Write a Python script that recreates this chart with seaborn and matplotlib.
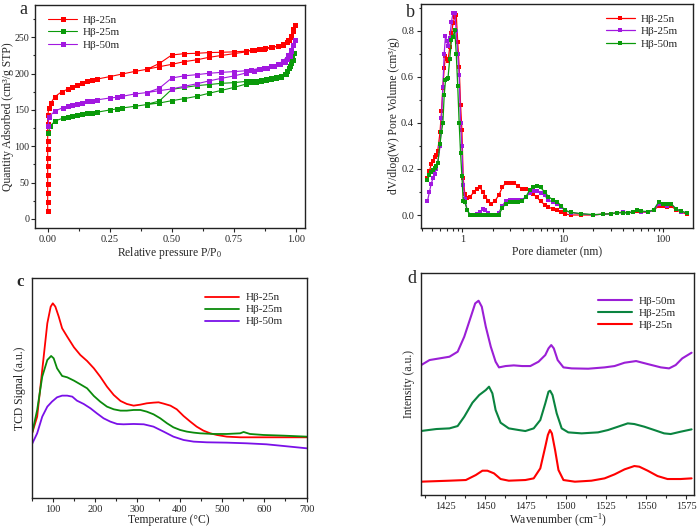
import matplotlib
matplotlib.use("Agg")
import matplotlib.pyplot as plt
import seaborn as sns
import numpy as np
import pandas as pd
from matplotlib.ticker import MultipleLocator, LogLocator, NullFormatter

# ---------------- Panel a: N2 isotherms (adsorption then desorption) ----------------
a_25n_x = [0.0, 0.0, 0.0, 0.0, 0.0, 0.0, 0.0, 0.0, 0.0, 0.0, 0.0, 0.0, 0.005, 0.012, 0.028, 0.056,
           0.08, 0.10, 0.12, 0.14, 0.16, 0.18, 0.20, 0.25, 0.30, 0.35, 0.40, 0.45, 0.50, 0.55, 0.60,
           0.65, 0.70, 0.75, 0.80, 0.825, 0.85, 0.876, 0.903, 0.93, 0.95, 0.964, 0.972, 0.98, 0.988,
           0.995,
           0.99, 0.98, 0.97, 0.95, 0.93, 0.90, 0.87, 0.85, 0.83, 0.80, 0.75, 0.70, 0.65, 0.60, 0.55,
           0.50, 0.45, 0.40]
a_25n_y = [11.5, 23.4, 35.8, 48, 60.1, 72.5, 84.4, 96.3, 108, 119.7, 131, 142.7, 153, 159, 168, 175,
           178.4, 181, 184, 186.7, 189.4, 190.8, 192.6, 195.9, 199.5, 203, 206, 209.6, 212.8, 216.5, 219,
           222.5, 225, 227.5, 230, 233, 234, 234.8, 236, 238, 240, 243, 246, 251, 258.7,
           266.5,
           262, 252, 247, 241, 238, 236, 234.5, 233.5, 232.5, 231, 230, 229.4, 229, 228, 227.5,
           225.7, 214, 206]

a_25m_x = [0.002, 0.01, 0.03, 0.06, 0.082, 0.10, 0.12, 0.14, 0.16, 0.18, 0.20, 0.25, 0.28, 0.30,
           0.35, 0.40, 0.45, 0.50, 0.55, 0.60, 0.65, 0.70, 0.75, 0.80, 0.82, 0.84, 0.86, 0.88, 0.90,
           0.92, 0.94, 0.955, 0.965, 0.972, 0.98, 0.987, 0.992,
           0.985, 0.975, 0.96, 0.94, 0.92, 0.90, 0.88, 0.86, 0.84, 0.82, 0.80, 0.75, 0.70, 0.65,
           0.60, 0.55, 0.50, 0.45, 0.40]
a_25m_y = [118, 128, 135, 138.5, 140.8, 142, 143, 144.5, 146, 146.5, 147, 150, 151.5, 152.8,
           155, 157.5, 159.6, 162.8, 165.6, 168.8, 173, 177, 181, 185.8, 188, 189, 190, 191, 193,
           195, 197, 200, 204, 208, 214, 219, 229,
           222, 210, 200, 196, 194, 193.5, 192, 191, 190, 189.5, 189.4, 187.6, 186.7, 185,
           183.5, 181, 178.4, 162.4, 157.8]

a_50m_x = [0.002, 0.005, 0.03, 0.06, 0.082, 0.10, 0.12, 0.14, 0.16, 0.18, 0.20, 0.25, 0.28, 0.30,
           0.35, 0.40, 0.45, 0.50, 0.55, 0.60, 0.65, 0.70, 0.75, 0.80, 0.83, 0.856, 0.883, 0.91,
           0.937, 0.957, 0.966, 0.975, 0.981, 0.987, 0.995,
           0.99, 0.98, 0.97, 0.95, 0.93, 0.90, 0.87, 0.85, 0.82, 0.80, 0.75, 0.70, 0.65, 0.60,
           0.55, 0.50, 0.45, 0.40]
a_50m_y = [128, 141, 148.6, 153, 155, 157, 158.7, 160, 162, 163, 164, 166.5, 167.5, 168.8,
           172, 174, 176.6, 179, 182.6, 186, 190, 193.6, 196.8, 201, 204, 206.5, 208, 210.6,
           213, 216, 219.7, 224.8, 231.6, 239.4, 247,
           240, 233, 226, 218, 213, 210, 208, 207, 205, 204, 202.8, 201.8, 200.5, 198.6,
           197, 194, 180, 174]

# ---------------- Panel b: pore size distribution ----------------
b_x = [0.45, 0.47, 0.49, 0.51, 0.53, 0.55, 0.57, 0.60, 0.62, 0.64, 0.66, 0.68, 0.70, 0.72, 0.75,
       0.78, 0.81, 0.84, 0.87, 0.90, 0.93, 0.96, 0.99, 1.02, 1.06, 1.12, 1.2, 1.3, 1.4, 1.5, 1.6,
       1.7, 1.8, 1.95, 2.1, 2.3, 2.5, 2.7, 3.0, 3.3, 3.6, 3.9, 4.3, 4.7, 5.1, 5.5, 6.0, 6.6, 7.2,
       8.0, 8.8, 9.6, 10.5, 12, 15, 20, 25, 30, 35, 40, 45, 50, 55, 60, 70, 80, 90, 100, 110,
       120, 135, 150, 172]
b_25n_y = [0.16, 0.19, 0.22, 0.235, 0.25, 0.26, 0.28, 0.36, 0.45, 0.55, 0.64, 0.69, 0.68, 0.67, 0.73,
           0.79, 0.835, 0.86, 0.87, 0.75, 0.645, 0.48, 0.37, 0.16, 0.09, 0.075, 0.08, 0.10, 0.115, 0.12, 0.10,
           0.08, 0.06, 0.05, 0.06, 0.085, 0.12, 0.14, 0.14, 0.138, 0.125, 0.115, 0.112, 0.105, 0.09, 0.078,
           0.06, 0.045, 0.035,
           0.025, 0.02, 0.012, 0.005, 0.0, 0.0, 0.0, 0.004, 0.005, 0.01, 0.012, 0.01, 0.013, 0.016,
           0.013, 0.012, 0.02, 0.04, 0.037, 0.033, 0.038, 0.022, 0.012, 0.004]
b_25m_y = [0.06, 0.10, 0.135, 0.16, 0.18, 0.20, 0.225, 0.30, 0.42, 0.555, 0.70, 0.78, 0.755, 0.735,
           0.77, 0.84, 0.88, 0.88, 0.80, 0.70, 0.61, 0.40, 0.30, 0.13, 0.07, 0.02, 0.0, 0.0, 0.005, 0.015,
           0.025, 0.022, 0.01, 0.0, 0.0, 0.01, 0.04, 0.06, 0.067, 0.067, 0.065, 0.065, 0.08, 0.095, 0.103,
           0.105, 0.097, 0.085, 0.065, 0.055, 0.047, 0.035, 0.02, 0.01, 0.005, 0.0, 0.004, 0.005, 0.01,
           0.012, 0.01, 0.015, 0.02, 0.015, 0.012, 0.02, 0.048, 0.05, 0.04, 0.048, 0.025, 0.015, 0.008]
b_50m_y = [0.152, 0.175, 0.188, 0.195, 0.203, 0.215, 0.228, 0.31, 0.36, 0.40, 0.52, 0.585, 0.59, 0.595,
           0.68, 0.76, 0.775, 0.805, 0.70, 0.56, 0.40, 0.27, 0.17, 0.06, 0.055, 0.02, 0.0, 0.0, 0.0, 0.0,
           0.002, 0.002, 0.0, 0.0, 0.0, 0.0, 0.03, 0.05, 0.055, 0.058, 0.055, 0.06, 0.08, 0.11, 0.12,
           0.125, 0.12, 0.10, 0.08, 0.065, 0.058, 0.04, 0.02, 0.012, 0.006, 0.002, 0.003, 0.006, 0.01,
           0.01, 0.008, 0.015, 0.022, 0.017, 0.015, 0.022, 0.057, 0.05, 0.046, 0.048, 0.025, 0.018, 0.008]

# ---------------- Panel c: NH3-TPD ----------------
c_25n_x = [51, 63, 75, 87, 95, 100, 106, 114, 122, 134, 150, 165, 181, 197, 212, 228, 244, 260, 275,
           291, 307, 322, 338, 350, 362, 378, 393, 409, 425, 440, 456, 472, 488, 511, 543, 574, 605,
           645, 700]
c_25n_y = [1.8, 2.3, 3.7, 5.1, 5.6, 5.7, 5.6, 5.3, 4.95, 4.7, 4.38, 4.15, 3.97, 3.75, 3.5, 3.2, 2.95,
           2.77, 2.68, 2.63, 2.66, 2.7, 2.72, 2.73, 2.69, 2.63, 2.52, 2.32, 2.15, 2.0, 1.88, 1.8, 1.75,
           1.7, 1.68, 1.68, 1.68, 1.68, 1.68]
c_25m_x = [51, 63, 75, 87, 96, 102, 110, 122, 134, 150, 165, 181, 197, 212, 228, 244, 260, 275, 291,
           307, 322, 338, 354, 370, 385, 401, 417, 433, 448, 480, 511, 543, 551, 566, 598, 645, 700]
c_25m_y = [1.8, 2.5, 3.5, 4.0, 4.12, 4.05, 3.75, 3.52, 3.48, 3.38, 3.27, 3.15, 2.92, 2.75, 2.6, 2.52,
           2.48, 2.48, 2.5, 2.5, 2.45, 2.37, 2.25, 2.1, 1.98, 1.9, 1.85, 1.82, 1.8, 1.78, 1.78, 1.8,
           1.84, 1.78, 1.75, 1.73, 1.7]
c_50m_x = [51, 63, 75, 87, 98, 110, 122, 134, 146, 157, 173, 189, 204, 220, 236, 252, 267, 291, 315,
           338, 362, 385, 409, 433, 464, 511, 558, 605, 645, 700]
c_50m_y = [1.48, 1.8, 2.3, 2.6, 2.75, 2.88, 2.93, 2.93, 2.9, 2.78, 2.68, 2.55, 2.4, 2.25, 2.15, 2.08,
           2.07, 2.08, 2.07, 2.0, 1.85, 1.7, 1.6, 1.55, 1.53, 1.52, 1.5, 1.47, 1.42, 1.35]

# ---------------- Panel d: Py-IR ----------------
d_50m_x = [1409.8, 1415.3, 1421.5, 1427.7, 1432.8, 1436.9, 1441, 1443.7, 1445.8, 1447.8, 1450.3,
           1453.4, 1456.4, 1458.5, 1462.6, 1467.7, 1472.9, 1478, 1483.1, 1487.3, 1489.3, 1491,
           1492.6, 1495, 1498.6, 1503.7, 1514, 1524.2, 1530.4, 1536.6, 1543.8, 1551, 1559.2,
           1564.3, 1568.4, 1572.5, 1578.3]
d_50m_y = [3.89, 4.05, 4.1, 4.15, 4.3, 4.75, 5.35, 5.75, 5.83, 5.65, 5.05, 4.45, 4.0, 3.83, 3.87,
           3.89, 3.87, 3.87, 4.0, 4.2, 4.4, 4.5, 4.4, 4.05, 3.83, 3.8, 3.79, 3.83, 3.87, 3.97, 4.02,
           3.93, 3.83, 3.8, 3.9, 4.1, 4.27]
d_25m_x = [1409.8, 1419.5, 1427.7, 1432.8, 1436.9, 1442, 1446.2, 1450.3, 1452.3, 1454.4, 1456.4,
           1459.5, 1464.6, 1470.8, 1474.9, 1480.1, 1484.2, 1487.3, 1489.3, 1490.3, 1491.8, 1494.4,
           1497.5, 1501.6, 1509.9, 1520.1, 1526.3, 1532.5, 1538.6, 1542.7, 1548.9, 1555.1, 1561.2,
           1565.3, 1571.5, 1578.3]
d_25m_y = [1.92, 1.98, 2.0, 2.07, 2.35, 2.77, 3.0, 3.15, 3.25, 3.05, 2.55, 2.17, 2.0, 1.95, 1.92,
           2.0, 2.25, 2.75, 3.1, 3.13, 3.0, 2.45, 2.0, 1.88, 1.85, 1.88, 1.95, 2.05, 2.15, 2.13, 2.05,
           1.95, 1.85, 1.83, 1.9, 1.97]
d_25n_x = [1409.8, 1427.7, 1437.9, 1444.1, 1448.2, 1451.3, 1455.4, 1459.5, 1464.6, 1474.9, 1480.1,
           1484.2, 1487.3, 1488.9, 1490.2, 1491.4, 1493.4, 1495.5, 1498.6, 1505.7, 1516, 1524.2,
           1530.4, 1536.6, 1542.7, 1545.8, 1551, 1557.1, 1563.3, 1571.5, 1578.3]
d_25n_y = [0.4, 0.43, 0.45, 0.6, 0.73, 0.73, 0.65, 0.48, 0.43, 0.45, 0.5, 0.8, 1.45, 1.8, 1.95,
           1.85, 1.35, 0.75, 0.45, 0.4, 0.43, 0.5, 0.62, 0.77, 0.87, 0.85, 0.73, 0.57, 0.48, 0.48, 0.5]

labels_a = ["Hβ-25n", "Hβ-25m", "Hβ-50m"]
labels_b = ["Hβ-25n", "Hβ-25m", "Hβ-50m"]
labels_c = ["Hβ-25n", "Hβ-25m", "Hβ-50m"]
labels_d = ["Hβ-50m", "Hβ-25m", "Hβ-25n"]

RED = "#ff0000"
GREEN_A = "#0a9a0a"
PURPLE_A = "#a218e0"
GREEN_C = "#0b8a0b"
PURPLE_C = "#7a10e8"
GREEN_D = "#0a8440"
PURPLE_D = "#9b1fd6"

sns.set_style("ticks")
plt.rcParams['font.family'] = ['Liberation Serif', 'DejaVu Serif']
plt.rcParams['mathtext.fontset'] = 'custom'
plt.rcParams['mathtext.rm'] = 'Liberation Serif'
plt.rcParams['axes.linewidth'] = 1.0
plt.rcParams['axes.edgecolor'] = '#222222'
plt.rcParams['xtick.major.size'] = 3
plt.rcParams['ytick.major.size'] = 3
plt.rcParams['xtick.minor.size'] = 1.8
plt.rcParams['ytick.minor.size'] = 1.8
plt.rcParams['xtick.direction'] = 'out'
plt.rcParams['ytick.direction'] = 'out'

TICK_FS = 7.5
LAB_FS = 8.4
LEG_FS = 8.0

fig = plt.figure(figsize=(6.99, 5.30), dpi=100)
ax_a = fig.add_axes([0.0501, 0.5698, 0.3863, 0.4208])
ax_b = fig.add_axes([0.6023, 0.5698, 0.3896, 0.4226])
ax_c = fig.add_axes([0.0453, 0.0598, 0.3934, 0.4151])
ax_d = fig.add_axes([0.6023, 0.066, 0.391, 0.4194])

# ---- a ----
for xs, ys, col, lab in [(a_25n_x, a_25n_y, RED, labels_a[0]),
                         (a_25m_x, a_25m_y, GREEN_A, labels_a[1]),
                         (a_50m_x, a_50m_y, PURPLE_A, labels_a[2])]:
    sns.lineplot(x=xs, y=ys, ax=ax_a, sort=False, estimator=None, color=col, lw=0.8,
                 marker='s', markersize=3.6, markeredgewidth=0, label=lab)
ax_a.set_xlim(-0.051, 1.037)
ax_a.set_ylim(-12.4, 294.5)
ax_a.xaxis.set_major_locator(MultipleLocator(0.25))
ax_a.xaxis.set_minor_locator(MultipleLocator(0.125))
ax_a.yaxis.set_major_locator(MultipleLocator(50))
ax_a.yaxis.set_minor_locator(MultipleLocator(25))
ax_a.set_xticks([0, 0.25, 0.5, 0.75, 1.0])
ax_a.set_xticklabels(["0.00", "0.25", "0.50", "0.75", "1.00"])
ax_a.set_xlabel(r"Relative pressure P/P$\mathregular{_0}$", fontsize=LAB_FS, labelpad=1)
ax_a.set_ylabel("Quantity Adsorbed (cm³/g STP)", fontsize=LAB_FS, labelpad=0)
ax_a.legend(loc='upper left', frameon=False, fontsize=LEG_FS, handlelength=2.6,
            borderaxespad=0.3, labelspacing=0.25, handletextpad=0.5, bbox_to_anchor=(0.02, 0.99))

# ---- b ----
for ys, col, lab in [(b_25n_y, RED, labels_b[0]), (b_25m_y, PURPLE_A, labels_b[1]),
                     (b_50m_y, GREEN_A, labels_b[2])]:
    sns.lineplot(x=b_x, y=ys, ax=ax_b, sort=False, estimator=None, color=col, lw=0.9,
                 marker='s', markersize=2.2, markeredgewidth=0, label=lab)
ax_b.set_xscale('log')
ax_b.set_xlim(0.388, 199)
ax_b.set_ylim(-0.0565, 0.917)
ax_b.set_xticks([1, 10, 100])
ax_b.set_xticklabels(["1", "10", "100"])
ax_b.xaxis.set_minor_locator(LogLocator(base=10, subs=np.arange(2, 10)))
ax_b.xaxis.set_minor_formatter(NullFormatter())
ax_b.yaxis.set_major_locator(MultipleLocator(0.2))
ax_b.yaxis.set_minor_locator(MultipleLocator(0.1))
ax_b.set_yticks([0, 0.2, 0.4, 0.6, 0.8])
ax_b.set_yticklabels(["0.0", "0.2", "0.4", "0.6", "0.8"])
ax_b.set_xlabel("Pore diameter (nm)", fontsize=LAB_FS, labelpad=1)
ax_b.set_ylabel("dV/dlog(W) Pore Volume (cm³/g)", fontsize=LAB_FS, labelpad=1)
ax_b.legend(loc='upper right', frameon=False, fontsize=LEG_FS, handlelength=2.6,
            borderaxespad=0.3, labelspacing=0.25, handletextpad=0.5, bbox_to_anchor=(0.97, 0.99))

# ---- c ----
for xs, ys, col, lab in [(c_25n_x, c_25n_y, RED, labels_c[0]),
                         (c_25m_x, c_25m_y, GREEN_C, labels_c[1]),
                         (c_50m_x, c_50m_y, PURPLE_C, labels_c[2])]:
    sns.lineplot(x=xs, y=ys, ax=ax_c, sort=False, estimator=None, color=col, lw=1.3, label=lab)
ax_c.set_xlim(50, 700)
ax_c.set_ylim(-0.15, 6.45)
ax_c.xaxis.set_major_locator(MultipleLocator(100))
ax_c.xaxis.set_minor_locator(MultipleLocator(50))
ax_c.set_yticks([])
ax_c.set_xlabel("Temperature (°C)", fontsize=LAB_FS, labelpad=0)
ax_c.set_ylabel("TCD Signal (a.u.)", fontsize=LAB_FS, labelpad=4)
ax_c.legend(loc='upper right', frameon=False, fontsize=LEG_FS, handlelength=3.0,
            borderaxespad=0.3, labelspacing=0.2, handletextpad=0.6, bbox_to_anchor=(0.94, 0.97))

# ---- d ----
for xs, ys, col, lab in [(d_50m_x, d_50m_y, PURPLE_D, labels_d[0]),
                         (d_25m_x, d_25m_y, GREEN_D, labels_d[1]),
                         (d_25n_x, d_25n_y, RED, labels_d[2])]:
    sns.lineplot(x=xs, y=ys, ax=ax_d, sort=False, estimator=None, color=col, lw=1.5, label=lab)
ax_d.set_xlim(1410, 1580)
ax_d.set_ylim(0, 6.67)
ax_d.xaxis.set_major_locator(MultipleLocator(25))
ax_d.xaxis.set_minor_locator(MultipleLocator(12.5))
ax_d.set_xticks([1425, 1450, 1475, 1500, 1525, 1550, 1575])
ax_d.set_yticks([])
ax_d.set_xlabel(r"Wavenumber (cm$\mathregular{^{-1}}$)", fontsize=LAB_FS, labelpad=1)
ax_d.set_ylabel("Intensity (a.u.)", fontsize=LAB_FS, labelpad=4)
ax_d.legend(loc='upper right', frameon=False, fontsize=LEG_FS, handlelength=3.0,
            borderaxespad=0.3, labelspacing=0.2, handletextpad=0.6, bbox_to_anchor=(0.96, 0.93))

for ax in (ax_a, ax_b, ax_c, ax_d):
    ax.tick_params(axis='both', which='both', labelsize=TICK_FS, pad=2, top=False, right=False,
                   width=0.8)
    for s in ax.spines.values():
        s.set_visible(True)
ax_a.tick_params(axis='y', which='both', pad=1.2, labelsize=7.2)

fig.text(0.034, 0.998, "a", fontsize=13, va='top', ha='center')
fig.text(0.587, 0.977, "b", fontsize=13, va='center', ha='center')
fig.text(0.029, 0.468, "c", fontsize=12, va='center', ha='center', fontweight='bold')
fig.text(0.589, 0.475, "d", fontsize=13, va='center', ha='center')

fig.savefig("out.png", dpi=100)
